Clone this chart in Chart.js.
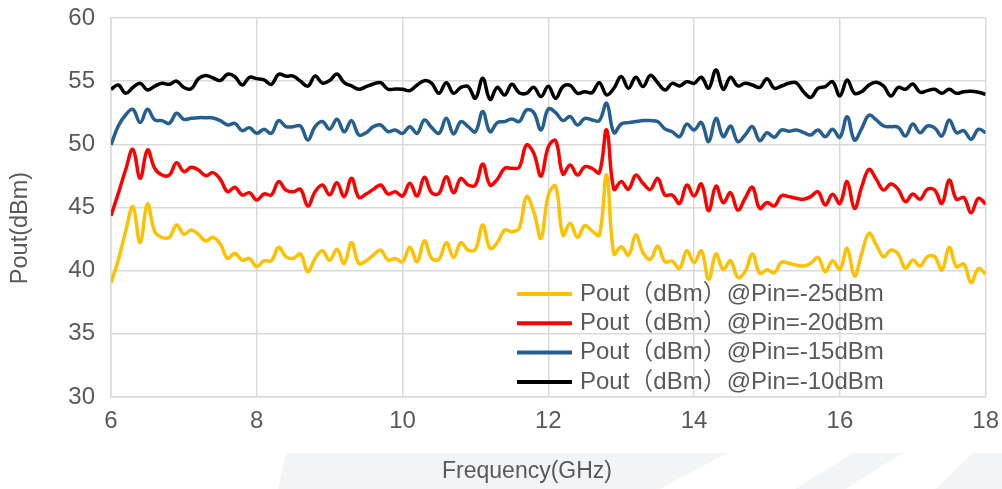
<!DOCTYPE html>
<html>
<head>
<meta charset="utf-8">
<script src="https://cdn.jsdelivr.net/npm/chart.js@4.4.1/dist/chart.umd.min.js"></script>
<style>
  html, body { margin: 0; padding: 0; background: #fff; }
  #wrap { width: 1002px; height: 489px; position: relative; }
</style>
</head>
<body>
<div id="wrap"><canvas id="poutChart"></canvas></div>
<script>
// --- Data ---
const freqs = [
  6.0, 6.1, 6.2, 6.3, 6.4, 6.5, 6.6, 6.7, 6.8, 6.9,
  7.0, 7.1, 7.2, 7.3, 7.4, 7.5, 7.6, 7.7, 7.8, 7.9,
  8.0, 8.1, 8.2, 8.3, 8.4, 8.5, 8.6, 8.7, 8.8, 8.9,
  9.0, 9.1, 9.2, 9.3, 9.4, 9.5, 9.6, 9.7, 9.8, 9.9,
  10.0, 10.1, 10.2, 10.3, 10.4, 10.5, 10.6, 10.7, 10.8, 10.9,
  11.0, 11.1, 11.2, 11.3, 11.4, 11.5, 11.6, 11.7, 11.8, 11.9,
  12.0, 12.1, 12.2, 12.3, 12.4, 12.5, 12.6, 12.7, 12.8, 12.9,
  13.0, 13.1, 13.2, 13.3, 13.4, 13.5, 13.6, 13.7, 13.8, 13.9,
  14.0, 14.1, 14.2, 14.3, 14.4, 14.5, 14.6, 14.7, 14.8, 14.9,
  15.0, 15.1, 15.2, 15.3, 15.4, 15.5, 15.6, 15.7, 15.8, 15.9,
  16.0, 16.1, 16.2, 16.3, 16.4, 16.5, 16.6, 16.7, 16.8, 16.9,
  17.0, 17.1, 17.2, 17.3, 17.4, 17.5, 17.6, 17.7, 17.8, 17.9, 18.0
];

const poutPin25 = [
  39.05, 40.84, 43.09, 45.07, 42.22, 45.28, 43.09, 42.64, 42.64, 43.61,
  42.88, 43.22, 42.88, 42.35, 42.64, 42.11, 40.97, 41.37, 40.84, 40.97,
  40.32, 40.79, 40.79, 41.85, 41.11, 40.97, 41.32, 39.92, 40.97, 41.58,
  40.82, 41.69, 40.58, 42.22, 40.58, 40.79, 41.24, 41.63, 40.84, 40.97,
  40.71, 41.85, 40.71, 42.37, 40.97, 40.90, 42.22, 41.05, 42.22, 41.63,
  41.69, 43.61, 41.77, 42.22, 43.22, 43.09, 43.35, 45.86, 44.67, 42.56,
  46.00, 46.70, 42.82, 43.75, 42.64, 43.56, 43.14, 42.82, 47.57, 41.32,
  41.90, 41.24, 42.82, 41.42, 40.90, 41.95, 40.71, 40.76, 40.18, 41.58,
  40.63, 41.58, 39.31, 41.32, 40.10, 40.79, 39.47, 39.92, 41.32, 39.79,
  40.07, 39.84, 40.68, 40.58, 40.45, 40.37, 40.58, 41.05, 39.92, 40.79,
  40.10, 41.77, 39.58, 41.37, 42.96, 42.03, 41.11, 41.63, 41.32, 40.18,
  40.84, 40.37, 41.11, 41.11, 40.05, 41.85, 40.32, 40.53, 39.05, 40.18, 39.74
];

const poutPin20 = [
  44.35, 46.12, 47.97, 49.60, 47.31, 49.55, 48.10, 47.57, 47.57, 48.55,
  47.84, 48.18, 47.97, 47.52, 47.76, 47.23, 46.25, 46.60, 45.99, 46.17,
  45.59, 46.07, 45.99, 47.05, 46.38, 46.25, 46.44, 45.12, 46.25, 46.78,
  46.00, 46.97, 45.86, 47.31, 45.80, 46.07, 46.44, 46.78, 46.07, 46.25,
  45.91, 46.91, 45.91, 47.39, 46.17, 46.12, 47.44, 46.17, 47.31, 46.78,
  46.78, 48.44, 46.78, 47.23, 48.10, 48.10, 48.18, 49.95, 49.29, 47.49,
  49.80, 50.29, 47.65, 48.36, 47.57, 48.23, 48.10, 47.76, 51.14, 46.44,
  47.05, 46.44, 47.57, 46.91, 46.44, 47.31, 45.99, 45.99, 45.33, 46.78,
  45.91, 46.86, 44.75, 46.70, 45.38, 46.17, 44.80, 45.73, 46.60, 44.93,
  45.40, 45.12, 45.94, 45.86, 45.73, 45.65, 45.86, 46.25, 45.20, 46.04,
  45.33, 47.05, 44.93, 46.65, 48.02, 47.23, 46.38, 46.86, 46.44, 45.46,
  46.07, 45.65, 46.44, 46.38, 45.33, 47.18, 45.65, 45.80, 44.59, 45.73, 45.28
];

const poutPin15 = [
  49.95, 51.45, 52.32, 52.77, 51.72, 52.77, 51.93, 51.88, 51.66, 52.46,
  51.98, 52.06, 52.11, 52.11, 52.09, 51.88, 51.53, 51.66, 51.08, 51.32,
  50.87, 51.19, 50.87, 51.88, 51.40, 51.40, 51.45, 50.34, 51.40, 51.80,
  51.20, 51.98, 51.00, 51.88, 50.74, 50.92, 51.40, 51.53, 51.00, 51.14,
  50.87, 51.40, 50.87, 51.93, 51.32, 50.87, 52.06, 50.82, 51.80, 51.40,
  51.00, 52.59, 51.00, 51.72, 51.80, 52.01, 51.80, 52.72, 52.51, 51.14,
  52.80, 52.51, 51.88, 52.19, 51.53, 52.06, 51.93, 51.88, 53.25, 50.92,
  51.61, 51.72, 51.80, 51.88, 51.88, 51.80, 51.22, 51.00, 50.61, 51.61,
  51.14, 51.72, 50.21, 52.06, 50.61, 51.45, 50.21, 50.74, 51.40, 50.29,
  50.92, 50.56, 51.14, 51.03, 51.14, 50.95, 50.74, 51.14, 50.61, 51.19,
  50.56, 52.19, 50.34, 51.27, 52.30, 51.93, 51.45, 51.40, 51.35, 50.66,
  51.61, 50.92, 51.45, 51.30, 50.66, 51.93, 50.92, 51.08, 50.40, 51.19, 50.92
];

const poutPin10 = [
  54.36, 54.70, 54.04, 54.50, 54.83, 54.30, 54.60, 54.83, 54.75, 55.00,
  54.50, 54.40, 55.20, 55.45, 55.25, 55.05, 55.55, 55.35, 54.70, 55.30,
  55.20, 55.10, 54.75, 55.55, 55.40, 55.40, 55.00, 54.60, 55.40, 54.85,
  55.05, 55.57, 54.88, 54.62, 54.36, 54.57, 54.78, 54.88, 54.36, 54.38,
  54.36, 54.25, 54.70, 55.04, 54.83, 54.04, 54.88, 54.04, 54.51, 54.57,
  53.64, 55.23, 53.56, 54.51, 53.90, 54.75, 54.09, 54.04, 54.51, 53.78,
  54.60, 53.64, 54.57, 54.67, 54.04, 54.17, 54.09, 54.88, 53.91, 54.44,
  55.36, 54.44, 55.31, 54.57, 55.46, 54.88, 54.30, 54.83, 54.62, 54.96,
  54.83, 55.31, 54.44, 55.89, 54.36, 55.31, 54.62, 54.83, 54.70, 54.51,
  55.20, 54.44, 54.62, 54.83, 54.88, 54.17, 53.72, 54.44, 54.57, 54.96,
  53.83, 55.10, 54.04, 54.17, 54.70, 54.91, 54.62, 53.83, 54.51, 54.36,
  54.78, 54.12, 54.25, 54.36, 54.04, 54.36, 54.04, 54.17, 54.20, 54.12, 53.96
];

const seriesLabels = [
  'Pout（dBm）@Pin=-25dBm',
  'Pout（dBm）@Pin=-20dBm',
  'Pout（dBm）@Pin=-15dBm',
  'Pout（dBm）@Pin=-10dBm'
];
const seriesColors = ['#FFC000', '#FF0000', '#255E91', '#000000'];
const xTicks = [6, 8, 10, 12, 14, 16, 18];
const yTicks = [30, 35, 40, 45, 50, 55, 60];

const FONT = '"Liberation Sans", Arial, "Noto Sans CJK SC", sans-serif';
const TEXT = '#595959';
const GRID = '#d9d9d9';

const toPoints = vals => vals.map((v, i) => ({ x: freqs[i], y: v }));
const allSeries = [poutPin25, poutPin20, poutPin15, poutPin10];

// background watermark, axis titles and the in-plot legend
const decorPlugin = {
  id: 'decor',
  beforeDraw(chart) {
    const ctx = chart.ctx;
    ctx.save();
    ctx.fillStyle = '#fff';
    ctx.fillRect(0, 0, chart.width, chart.height);
    ctx.fillStyle = '#f3f4f6';
    const shapes = [
      [[286, 453], [727, 453], [660, 489], [278, 489]],
      [[853, 453], [903, 453], [845, 489], [795, 489]],
      [[973, 453], [1002, 453], [1002, 489], [935, 489]]
    ];
    shapes.forEach(s => {
      ctx.beginPath();
      ctx.moveTo(s[0][0], s[0][1]);
      s.slice(1).forEach(p => ctx.lineTo(p[0], p[1]));
      ctx.closePath();
      ctx.fill();
    });
    ctx.restore();
  },
  afterDraw(chart) {
    const ctx = chart.ctx;
    ctx.save();
    ctx.fillStyle = TEXT;
    ctx.font = '23px ' + FONT;
    ctx.textAlign = 'center';
    ctx.textBaseline = 'middle';
    ctx.fillText('Frequency(GHz)', 527, 472);
    ctx.font = '23.5px ' + FONT;
    ctx.translate(21, 228);
    ctx.rotate(-Math.PI / 2);
    ctx.fillText('Pout(dBm)', 0, 0);
    ctx.restore();

    // legend
    ctx.save();
    ctx.font = '24px ' + FONT;
    ctx.textAlign = 'left';
    ctx.textBaseline = 'middle';
    chart.data.datasets.forEach((ds, i) => {
      const y = 294 + i * 29.3;
      ctx.strokeStyle = ds.borderColor;
      ctx.lineWidth = 4;
      ctx.beginPath();
      ctx.moveTo(517, y);
      ctx.lineTo(572, y);
      ctx.stroke();
      ctx.fillStyle = TEXT;
      ctx.fillText(ds.label, 580, y);
    });
    ctx.restore();
  }
};

new Chart(document.getElementById('poutChart'), {
  type: 'line',
  data: {
    datasets: allSeries.map((vals, i) => ({
      label: seriesLabels[i],
      data: toPoints(vals),
      borderColor: seriesColors[i],
      backgroundColor: seriesColors[i],
      borderWidth: 3.5,
      pointRadius: 0,
      tension: 0.4,
      fill: false
    }))
  },
  options: {
    responsive: true,
    maintainAspectRatio: false,
    animation: false,
    layout: { padding: { top: 18, right: 16, left: 0, bottom: 0 } },
    plugins: {
      legend: { display: false },
      tooltip: { enabled: false }
    },
    scales: {
      x: {
        type: 'linear',
        min: 6,
        max: 18,
        afterFit: s => { s.height = 92; },
        afterBuildTicks: s => { s.ticks = xTicks.map(v => ({ value: v })); },
        // small padding + tall line height keeps the right overflow small
        ticks: { color: TEXT, font: { family: FONT, size: 24, lineHeight: 1.75 }, padding: 3 },
        grid: { color: GRID, lineWidth: 1.5, drawTicks: false },
        border: { color: GRID, width: 1.5 }
      },
      y: {
        min: 30,
        max: 60,
        afterFit: s => { s.width = 111; },
        afterBuildTicks: s => { s.ticks = yTicks.map(v => ({ value: v })); },
        ticks: { color: TEXT, font: { family: FONT, size: 24, lineHeight: 0.1 }, padding: 16 },
        grid: { color: GRID, lineWidth: 1.5, drawTicks: false },
        border: { color: GRID, width: 1.5 }
      }
    }
  },
  plugins: [decorPlugin]
});
</script>
</body>
</html>
